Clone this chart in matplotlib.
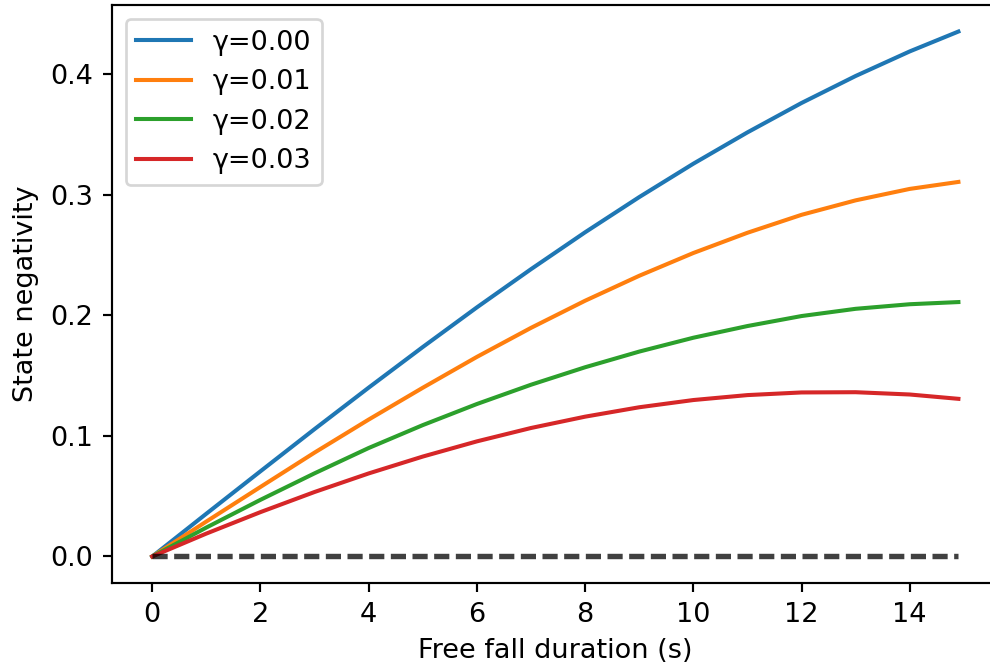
import numpy as np
import matplotlib
matplotlib.use('Agg')
import matplotlib.pyplot as plt

# free fall duration (s)
t = [0, 1, 2, 3, 4, 5, 6, 7, 8, 9, 10, 11, 12, 13, 14, 14.9]

# state negativity for each damping rate gamma
neg_000 = [0.0, 0.0355, 0.0707, 0.1057, 0.1401, 0.1738, 0.2067, 0.2384,
           0.2690, 0.2982, 0.3259, 0.3519, 0.3763, 0.3987, 0.4191, 0.4356]
neg_001 = [0.0, 0.0290, 0.0577, 0.0862, 0.1136, 0.1400, 0.1656, 0.1897,
           0.2122, 0.2329, 0.2518, 0.2686, 0.2835, 0.2955, 0.3050, 0.3108]
neg_002 = [0.0, 0.0240, 0.0470, 0.0690, 0.0900, 0.1090, 0.1265, 0.1425,
           0.1570, 0.1700, 0.1815, 0.1912, 0.1995, 0.2055, 0.2093, 0.2111]
neg_003 = [0.0, 0.0190, 0.0368, 0.0535, 0.0689, 0.0829, 0.0955, 0.1066,
           0.1160, 0.1238, 0.1298, 0.1339, 0.1361, 0.1363, 0.1344, 0.1308]

gammas = ['0.00', '0.01', '0.02', '0.03']
curves = [neg_000, neg_001, neg_002, neg_003]

fig = plt.figure(figsize=(990 / 195, 670 / 195), dpi=195)
ax = fig.add_axes([0.1131, 0.1303, 0.8957, 0.8618])

for g, y in zip(gammas, curves):
    ax.plot(t, y, label='\u03b3=' + g)

# zero line
ax.plot(t, np.zeros(len(t)), color='k', lw=2, alpha=0.75, dashes=(2.8, 1.2))

ax.spines['right'].set_visible(False)
ax.set_xlabel('Free fall duration (s)')
ax.set_ylabel('State negativity')
ax.legend(loc='upper left')

fig.savefig('out.png', dpi=195)
